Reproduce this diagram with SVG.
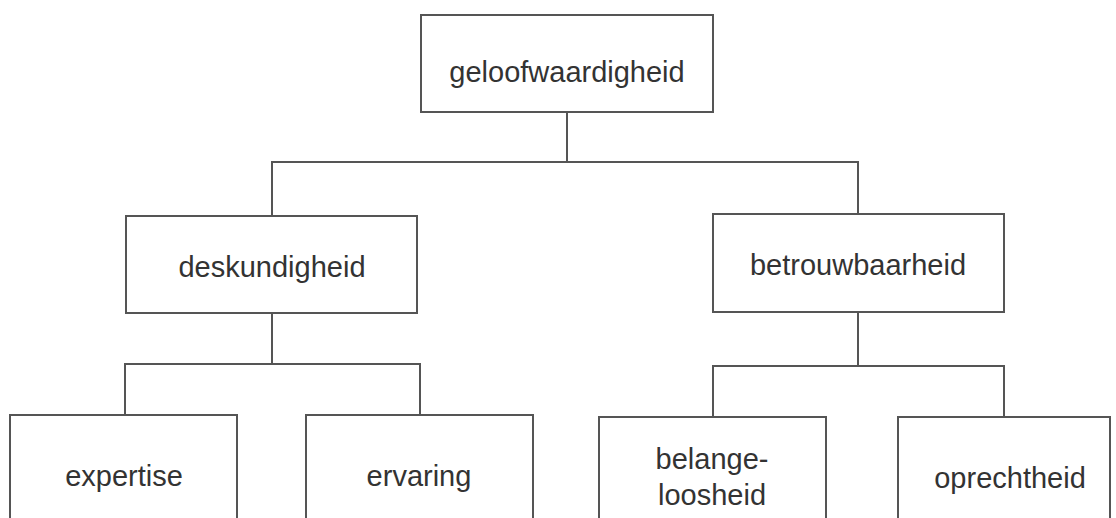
<svg xmlns="http://www.w3.org/2000/svg" width="1116" height="518" viewBox="0 0 1116 518">
<style>
.box{fill:#fff;stroke:#555;stroke-width:2}
.lbl{font-family:"Liberation Sans",Arial,sans-serif;font-size:29px;fill:#333;text-anchor:middle}
.con{fill:none;stroke:#555;stroke-width:2}
</style>
<rect width="1116" height="518" fill="#fff"/>
<g id="connectors">
<path class="con" d="M567,112 V162 M272,216 V162 H858 V214"/>
<path class="con" d="M272,313 V364 M125,415 V364 H420 V415"/>
<path class="con" d="M858,312 V366 M713,417 V366 H1004 V417"/>
</g>
<g id="geloofwaardigheid"><rect class="box" x="421" y="15" width="292" height="97"/><text class="lbl" x="567" y="82">geloofwaardigheid</text></g>
<g id="deskundigheid"><rect class="box" x="126" y="216" width="291" height="97"/><text class="lbl" x="272" y="277">deskundigheid</text></g>
<g id="betrouwbaarheid"><rect class="box" x="713" y="214" width="291" height="98"/><text class="lbl" x="858" y="275">betrouwbaarheid</text></g>
<g id="expertise"><rect class="box" x="10" y="415" width="227" height="120"/><text class="lbl" x="124" y="486">expertise</text></g>
<g id="ervaring"><rect class="box" x="306" y="415" width="227" height="120"/><text class="lbl" x="419" y="486">ervaring</text></g>
<g id="belangeloosheid"><rect class="box" x="599" y="417" width="227" height="120"/><text class="lbl" x="712" y="469">belange-</text><text class="lbl" x="712" y="505">loosheid</text></g>
<g id="oprechtheid"><rect class="box" x="898" y="417" width="212" height="120"/><text class="lbl" x="1010" y="488">oprechtheid</text></g>
</svg>
